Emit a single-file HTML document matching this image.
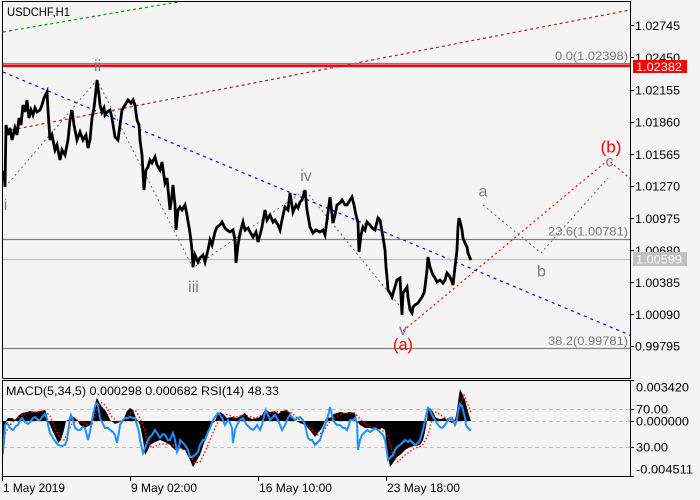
<!DOCTYPE html>
<html><head><meta charset="utf-8"><style>
html,body{margin:0;padding:0;background:#f4f4f4;}
svg{display:block;font-family:"Liberation Sans",sans-serif;}
</style></head><body>
<svg width="700" height="500" viewBox="0 0 700 500" xmlns="http://www.w3.org/2000/svg">
<rect x="0" y="0" width="700" height="500" fill="#f4f4f4"/>
<defs>
<clipPath id="mainclip"><rect x="3" y="2" width="627" height="376"/></clipPath>
<clipPath id="subclip"><rect x="3" y="381" width="627" height="95"/></clipPath>
</defs>

<!-- MAIN PANEL -->
<g clip-path="url(#mainclip)">
<line x1="3" y1="32" x2="195" y2="-1" stroke="#228b22" stroke-width="1.2" stroke-dasharray="3 3"/>
<line x1="6" y1="131" x2="630" y2="10" stroke="#a52a2a" stroke-width="1.2" stroke-dasharray="3 3"/>
<line x1="3" y1="72" x2="632" y2="336" stroke="#0000ff" stroke-width="1.2" stroke-dasharray="3 4"/>
<line x1="3" y1="63.5" x2="630" y2="63.5" stroke="#808080" stroke-width="1.2"/>
<rect x="3" y="64.5" width="627" height="2.6" fill="#ff0000"/>
<line x1="3" y1="239.5" x2="630" y2="239.5" stroke="#808080" stroke-width="1.2"/>
<line x1="3" y1="348.5" x2="630" y2="348.5" stroke="#808080" stroke-width="1.2"/>
<line x1="3" y1="259.5" x2="630" y2="259.5" stroke="#c0c0c0" stroke-width="1.2"/>
<polyline points="5,187 97,80 193,268 305,190 403,310" fill="none" stroke="#666" stroke-width="1" stroke-dasharray="2 3"/>
<polyline points="483,205 541,253 608,178" fill="none" stroke="#666" stroke-width="1" stroke-dasharray="2 3"/>
<polyline points="403,331 608,160 632,180" fill="none" stroke="#ff0000" stroke-width="1.2" stroke-dasharray="2 3"/>
<polyline fill="none" stroke="#000" stroke-width="2.8" stroke-linejoin="miter" points="3,173 4,172 5,187 6,125 8,135 10,128 12,140 15,128 17,135 19,118 21,125 23,105 25,112 27,100 29,118 31,110 33,115 35,108 37,112 40,110 42,105 44,98 47,92 48,110 50,140 52,135 55,150 57,145 60,160 62,150 65,155 68,140 70,120 72,110 74,125 77,140 80,132 83,140 86,135 88,148 90,140 92,118 94,108 96,90 97,80 99,95 100,105 102,112 104,108 105,115 107,112 110,110 112,118 115,137 118,140 120,125 122,110 125,105 128,100 131,103 133,100 135,105 137,120 139,125 140,140 142,155 144,190 146,170 148,167 150,160 152,163 155,157 157,165 160,170 162,162 165,183 167,178 170,210 172,195 173,185 175,205 176,230 178,210 180,207 182,210 185,205 187,215 190,233 192,250 193,267 195,255 198,262 200,258 203,255 205,262 208,250 210,240 212,245 215,232 217,227 220,225 222,222 225,228 227,230 230,232 233,230 235,240 236,263 238,245 240,233 243,222 245,230 248,228 250,232 253,237 256,232 258,242 260,235 262,227 265,210 267,220 270,215 273,222 275,220 278,225 280,230 283,215 285,207 288,210 290,193 293,212 296,205 298,208 300,202 302,200 305,190 307,210 310,227 313,233 316,230 320,232 323,230 325,235 327,220 330,197 333,223 335,215 337,205 340,203 342,200 345,205 347,205 350,200 352,197 354,205 356,215 358,223 359,252 361,235 363,227 365,230 367,222 370,225 372,228 375,230 378,218 380,220 383,237 385,250 386,267 387,277 388,290 390,293 392,297 394,290 397,280 400,278 402,315 403,293 405,290 407,287 408,297 410,310 412,313 413,307 415,305 418,303 420,300 422,297 424,293 425,287 427,270 428,257 430,267 433,275 435,278 437,282 440,280 443,283 445,280 447,273 450,277 452,282 453,285 455,267 457,250 458,227 459,218 461,225 462,230 463,238 465,243 467,247 468,253 470,258 471,260"/>
</g>

<text x="7" y="16" font-size="12" fill="#000" textLength="63" lengthAdjust="spacingAndGlyphs">USDCHF,H1</text>

<g font-size="12" fill="#7a7a7a" text-anchor="end">
<text x="628" y="60" textLength="73" lengthAdjust="spacingAndGlyphs">0.0(1.02398)</text>
<text x="628" y="235.5" textLength="80" lengthAdjust="spacingAndGlyphs">23.6(1.00781)</text>
<text x="628" y="345" textLength="80" lengthAdjust="spacingAndGlyphs">38.2(0.99781)</text>
</g>

<g font-size="16" fill="#6f7f90" text-anchor="middle">
<text x="5.5" y="210">i</text>
<text x="97.5" y="71">ii</text>
<text x="193.5" y="292">iii</text>
<text x="306" y="181">iv</text>
<text x="403" y="335">v</text>
<text x="483" y="196.5">a</text>
<text x="541.5" y="276.5">b</text>
<text x="609.5" y="166.5">c</text>
</g>
<g font-size="17" fill="#ff0000" text-anchor="middle">
<text x="403" y="350" textLength="20" lengthAdjust="spacingAndGlyphs">(a)</text>
<text x="611" y="152.5" textLength="21" lengthAdjust="spacingAndGlyphs">(b)</text>
</g>

<!-- MACD PANEL -->
<g clip-path="url(#subclip)">
<line x1="3" y1="409.5" x2="630" y2="409.5" stroke="#c0c0c0" stroke-width="1" stroke-dasharray="4 3"/>
<line x1="3" y1="421.5" x2="630" y2="421.5" stroke="#c0c0c0" stroke-width="1" stroke-dasharray="4 3"/>
<line x1="3" y1="447.5" x2="630" y2="447.5" stroke="#c0c0c0" stroke-width="1" stroke-dasharray="4 3"/>
<polygon fill="#000" points="2,421 2,445 3,457 5,440 6,421 8,418 12,418 15,420 18,416 22,413 27,412 30,411 35,412 40,411 45,410 47,415 48,421 50,425 53,432 56,438 58,443 61,440 64,430 66,421 70,419 74,417 78,421 80,425 85,428 90,425 92,421 94,410 96,400 97,398 99,402 102,407 105,410 108,415 110,420 115,424 120,422 124,418 127,411 130,408 133,410 136,418 138,421 140,425 143,440 145,455 148,450 150,445 155,442 160,440 165,442 170,445 175,450 180,448 185,450 190,460 193,467 196,462 200,455 205,440 208,432 212,424 215,421 217,416 220,412 223,414 227,418 232,417 237,418 242,415 245,413 248,417 252,419 258,418 262,415 265,410 270,412 275,411 278,414 282,411 287,410 290,413 293,418 296,421 300,423 305,425 308,428 312,433 315,437 318,433 322,428 325,421 327,417 330,418 334,414 340,412 345,413 350,412 355,413 357,421 360,425 365,428 370,428 377,430 382,428 385,430 387,450 390,467 393,463 397,457 400,455 405,450 410,447 415,446 420,445 423,440 425,432 427,421 428,410 430,408 433,412 436,418 440,419 445,418 448,421 452,423 455,420 457,410 459,395 460,389 462,393 465,400 467,408 469,415 471,421"/>
<polyline fill="none" stroke="#ff0000" stroke-width="1.3" stroke-dasharray="1.5 2" points="2,440 6,432 10,425 15,420 20,416 28,413 35,412 45,411 50,416 55,428 60,438 64,440 68,432 72,424 78,420 85,424 92,425 96,412 100,402 104,404 108,410 112,417 118,422 125,420 130,413 135,410 139,416 143,425 147,440 152,448 160,444 170,444 180,448 188,452 195,463 200,462 205,452 210,440 215,428 220,418 225,414 235,417 245,415 255,418 265,414 275,412 285,411 292,413 298,419 305,423 312,430 318,435 323,432 328,424 335,417 345,413 355,413 360,419 368,426 380,429 387,434 393,455 398,462 405,455 415,448 422,446 428,435 432,420 436,412 442,416 450,420 456,420 461,402 464,395 468,405 471,412"/>
<polyline fill="none" stroke="#1e90ff" stroke-width="2" stroke-linejoin="miter" points="3,452 4,440 5,425 7,423 10,428 13,430 16,426 18,425 20,420 22,418 25,422 28,424 30,422 33,418 35,417 38,420 40,420 43,416 45,414 47,418 48,425 50,433 53,438 55,441 58,445 62,446 65,445 67,440 68,432 70,418 71,415 73,420 75,428 78,430 80,430 83,427 85,428 88,440 90,432 92,420 94,410 96,403 98,405 100,418 102,422 105,428 108,428 110,430 113,432 115,435 117,443 119,432 120,425 123,420 125,418 128,418 130,417 133,418 135,418 137,425 139,432 140,440 143,453 145,448 148,440 150,437 152,435 155,430 157,433 160,438 163,434 165,435 168,440 170,440 173,433 175,440 177,452 179,448 180,440 183,443 185,445 188,450 190,457 192,457 195,455 198,452 200,445 203,440 205,440 208,432 210,428 213,420 215,417 218,413 220,415 222,418 225,425 228,420 230,423 232,428 233,443 235,430 237,425 240,420 243,418 245,422 247,425 250,428 253,430 255,428 257,425 260,430 262,425 263,420 266,410 268,415 270,420 273,417 275,415 278,420 280,425 282,430 285,425 288,418 290,415 293,418 295,420 298,418 300,417 303,420 305,425 308,438 310,440 312,440 315,445 318,442 320,440 323,430 325,425 327,420 329,412 330,407 332,415 333,420 335,423 337,425 340,425 343,428 345,428 347,430 349,425 350,420 353,420 355,418 357,422 358,450 360,440 362,435 365,432 367,430 370,432 373,430 375,428 378,430 380,432 383,435 385,440 387,452 388,460 390,458 393,455 395,450 397,447 400,445 403,442 405,440 408,442 410,440 413,443 415,445 418,443 420,440 423,430 425,420 427,412 428,408 430,410 432,415 435,420 438,425 440,427 442,428 445,425 448,420 450,418 452,418 455,425 457,420 458,412 460,404 462,406 463,410 465,418 466,425 468,428 470,430 471,430"/>
</g>
<text x="6" y="395" font-size="12" fill="#000" textLength="273" lengthAdjust="spacingAndGlyphs">MACD(5,34,5) 0.000298 0.000682 RSI(14) 48.33</text>

<g stroke="#000" stroke-width="1" fill="none" shape-rendering="crispEdges">
<line x1="2.5" y1="1.5" x2="630.5" y2="1.5"/>
<line x1="2.5" y1="1" x2="2.5" y2="378"/>
<line x1="2.5" y1="378.5" x2="630.5" y2="378.5"/>
<line x1="630.5" y1="1" x2="630.5" y2="379"/>
<line x1="2.5" y1="380.5" x2="630.5" y2="380.5"/>
<line x1="2.5" y1="380" x2="2.5" y2="477"/>
<line x1="2.5" y1="476.5" x2="630.5" y2="476.5"/>
<line x1="630.5" y1="380" x2="630.5" y2="477"/>
<line x1="630" y1="25.5" x2="634" y2="25.5"/>
<line x1="630" y1="57.5" x2="634" y2="57.5"/>
<line x1="630" y1="90.5" x2="634" y2="90.5"/>
<line x1="630" y1="122.5" x2="634" y2="122.5"/>
<line x1="630" y1="154.5" x2="634" y2="154.5"/>
<line x1="630" y1="186.5" x2="634" y2="186.5"/>
<line x1="630" y1="218.5" x2="634" y2="218.5"/>
<line x1="630" y1="250.5" x2="634" y2="250.5"/>
<line x1="630" y1="282.5" x2="634" y2="282.5"/>
<line x1="630" y1="314.5" x2="634" y2="314.5"/>
<line x1="630" y1="346.5" x2="634" y2="346.5"/>
<line x1="630" y1="380.5" x2="634" y2="380.5"/>
<line x1="630" y1="409.5" x2="634" y2="409.5"/>
<line x1="630" y1="421.5" x2="634" y2="421.5"/>
<line x1="630" y1="447.5" x2="634" y2="447.5"/>
<line x1="630" y1="476.5" x2="634" y2="476.5"/>
<line x1="2.5" y1="476" x2="2.5" y2="481"/>
<line x1="130.5" y1="476" x2="130.5" y2="481"/>
<line x1="258.5" y1="476" x2="258.5" y2="481"/>
<line x1="386.5" y1="476" x2="386.5" y2="481"/>
</g>

<g font-size="12" fill="#000">
<text x="635" y="30" textLength="45" lengthAdjust="spacingAndGlyphs">1.02745</text>
<text x="635" y="62" textLength="45" lengthAdjust="spacingAndGlyphs">1.02450</text>
<text x="635" y="94.5" textLength="45" lengthAdjust="spacingAndGlyphs">1.02155</text>
<text x="635" y="126.5" textLength="45" lengthAdjust="spacingAndGlyphs">1.01860</text>
<text x="635" y="159" textLength="45" lengthAdjust="spacingAndGlyphs">1.01565</text>
<text x="635" y="190.5" textLength="45" lengthAdjust="spacingAndGlyphs">1.01270</text>
<text x="635" y="223" textLength="45" lengthAdjust="spacingAndGlyphs">1.00975</text>
<text x="635" y="255" textLength="45" lengthAdjust="spacingAndGlyphs">1.00680</text>
<text x="635" y="287" textLength="45" lengthAdjust="spacingAndGlyphs">1.00385</text>
<text x="635" y="319" textLength="45" lengthAdjust="spacingAndGlyphs">1.00090</text>
<text x="635" y="350.5" textLength="45" lengthAdjust="spacingAndGlyphs">0.99795</text>
</g>
<rect x="633" y="60" width="54" height="13" fill="#ff0000"/>
<text x="636" y="71" font-size="12" fill="#fff" textLength="46" lengthAdjust="spacingAndGlyphs">1.02382</text>
<rect x="633" y="252" width="54" height="14" fill="#c0c0c0"/>
<text x="636" y="263.5" font-size="12" fill="#fff" textLength="46" lengthAdjust="spacingAndGlyphs">1.00599</text>

<g font-size="12" fill="#000">
<text x="636" y="391.5" textLength="53" lengthAdjust="spacingAndGlyphs">0.003420</text>
<text x="636" y="413.5" textLength="32" lengthAdjust="spacingAndGlyphs">70.00</text>
<text x="636" y="425.5" textLength="53" lengthAdjust="spacingAndGlyphs">0.000000</text>
<text x="636" y="451.5" textLength="32" lengthAdjust="spacingAndGlyphs">30.00</text>
<text x="636" y="473.5" textLength="57" lengthAdjust="spacingAndGlyphs">-0.004511</text>
</g>

<g font-size="12" fill="#000">
<text x="3" y="492" textLength="62" lengthAdjust="spacingAndGlyphs">1 May 2019</text>
<text x="131" y="492" textLength="66" lengthAdjust="spacingAndGlyphs">9 May 02:00</text>
<text x="259" y="492" textLength="73" lengthAdjust="spacingAndGlyphs">16 May 10:00</text>
<text x="387" y="492" textLength="73" lengthAdjust="spacingAndGlyphs">23 May 18:00</text>
</g>
</svg>
</body></html>
